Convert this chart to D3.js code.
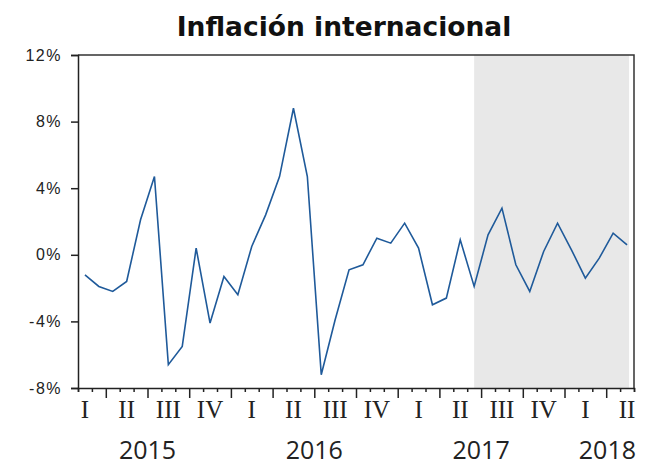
<!DOCTYPE html>
<html><head><meta charset="utf-8">
<script src="https://cdn.jsdelivr.net/npm/d3@7"></script>
<style>body{margin:0;background:#fff}svg{display:block}</style>
</head><body><svg id="c" width="648" height="465"></svg>
<script>
// Monthly series: Feb 2015 .. May 2018 (percent)
const months = d3.range(1, 41); // month index from Jan 2015 = 0
const values = [-1.2,-1.9,-2.2,-1.6,2.1,4.7,-6.6,-5.5,0.4,-4.1,-1.3,-2.4,
  0.5,2.4,4.7,8.8,4.7,-7.2,-3.9,-0.9,-0.6,1.0,0.7,1.9,0.4,-3.0,-2.6,
  0.9,-1.9,1.2,2.8,-0.6,-2.2,0.2,1.9,0.3,-1.4,-0.2,1.3,0.6];
const quarterLabels = ["I","II","III","IV","I","II","III","IV","I","II","III","IV","I","II"];
const yearLabels = ["2015","2016","2017","2018"];
const yTicks = [-8,-4,0,4,8,12];
const shadeFrom = 28; // first point of shaded (projection) period

const svg = d3.select("#c");
const L = 78, R = 634, T = 55, B = 388;
const x = d3.scaleLinear().domain([1, 41]).range([L, R]);
const y = d3.scaleLinear().domain([-8, 12]).range([B, T]);
const px = i => x(months[i] + 0.5);

// shaded region
svg.append("rect").attr("x", px(shadeFrom)).attr("y", T)
  .attr("width", px(values.length - 1) + 2 - px(shadeFrom)).attr("height", B - T)
  .attr("fill", "#e8e8e8");

// frame top/right
svg.append("path").attr("d", `M${L},${T}H${R}V${B}`).attr("fill","none")
  .attr("stroke","#333").attr("stroke-width",1.5);

// Y axis
const ya = svg.append("g").attr("transform", `translate(${L},0)`)
  .call(d3.axisLeft(y).tickValues(yTicks).tickSize(7).tickPadding(9).tickFormat(d => d + "%"));
ya.select(".domain").attr("stroke","#222").attr("stroke-width",1.5);
ya.selectAll(".tick line").attr("stroke","#222").attr("stroke-width",1.5);
ya.selectAll("text").attr("font-family","Liberation Sans, Arial, sans-serif")
  .attr("font-size",16).attr("fill","#222").attr("letter-spacing","1.5px");

// X axis: month ticks (minor) and quarter boundaries (major)
const bounds = d3.range(1, 42);
const xa = svg.append("g").attr("transform", `translate(0,${B})`)
  .call(d3.axisBottom(x).tickValues(bounds).tickSize(4).tickFormat(""));
xa.select(".domain").attr("stroke","#222").attr("stroke-width",1.5);
xa.selectAll(".tick line").attr("stroke","#222").attr("stroke-width",1.5)
  .attr("y2", d => d % 3 === 0 ? 10 : 4);

// quarter labels
svg.append("g").selectAll("text").data(quarterLabels).join("text")
  .attr("x", (d, i) => x(i * 3 + 1.5)).attr("y", 418)
  .attr("text-anchor","middle").attr("font-family","Liberation Serif, Times New Roman, serif")
  .attr("font-size",25).attr("fill","#222").text(d => d);

// year labels
svg.append("g").selectAll("text").data(yearLabels).join("text")
  .attr("x", (d, i) => i < 3 ? x(i * 12 + 6) : R + 2)
  .attr("y", 459)
  .attr("text-anchor", (d, i) => i < 3 ? "middle" : "end")
  .attr("font-family","Open Sans, sans-serif").attr("font-size",25).attr("fill","#222").text(d => d);

// line
svg.append("path").datum(values)
  .attr("d", d3.line().x((d, i) => px(i)).y(d => y(d)))
  .attr("fill","none").attr("stroke","#1f5a9a").attr("stroke-width",1.6);

// title
svg.append("text").attr("x", 344).attr("y", 36).attr("text-anchor","middle")
  .attr("font-family","DejaVu Sans, Verdana, sans-serif").attr("font-weight","bold")
  .attr("font-size",26.5).attr("fill","#111").text("Inflación internacional");
</script></body></html>
